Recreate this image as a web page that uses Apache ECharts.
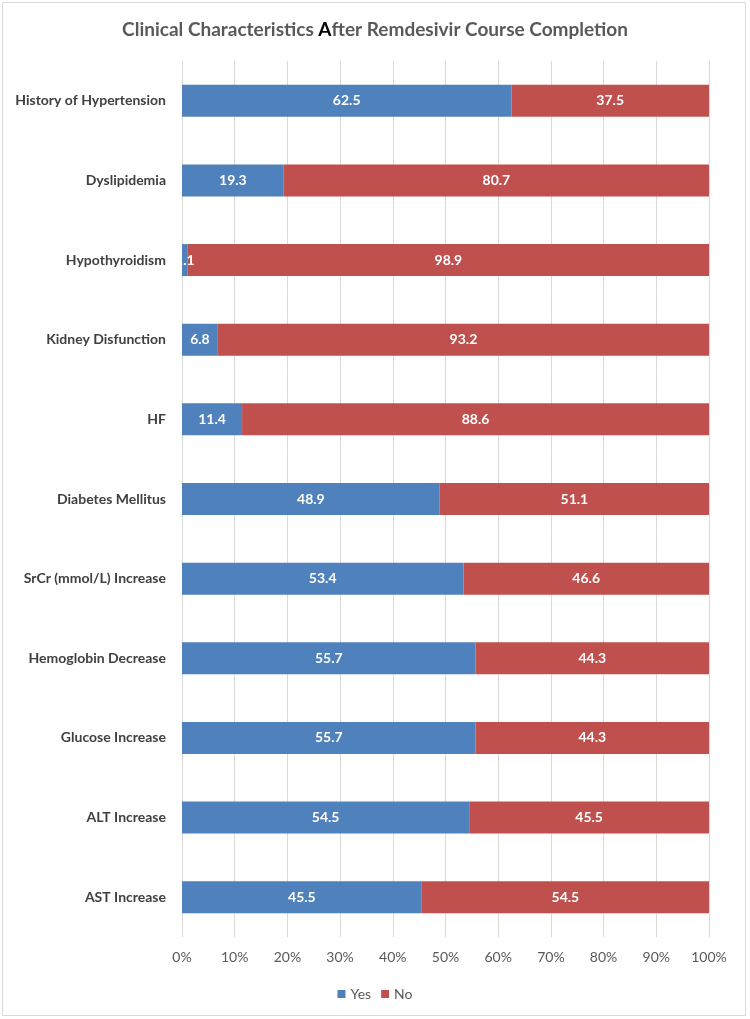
<!DOCTYPE html>
<html>
<head>
<meta charset="utf-8">
<script src="https://cdn.jsdelivr.net/npm/echarts@6/dist/echarts.min.js"></script>
<style>
html,body{margin:0;padding:0;background:#fff;}
#chart{width:750px;height:1019px;}
</style>
</head>
<body>
<div id="chart"></div>
<script>
const categories = ['History of Hypertension','Dyslipidemia','Hypothyroidism','Kidney Disfunction','HF','Diabetes Mellitus','SrCr (mmol/L) Increase','Hemoglobin Decrease','Glucose Increase','ALT Increase','AST Increase'];
const yesValues = [62.5,19.3,1.1,6.8,11.4,48.9,53.4,55.7,55.7,54.5,45.5];
const noValues = [37.5,80.7,98.9,93.2,88.6,51.1,46.6,44.3,44.3,45.5,54.5];
const xTicks = ['0%','10%','20%','30%','40%','50%','60%','70%','80%','90%','100%'];

const FONT = 'Lato, "Open Sans", sans-serif';
const chart = echarts.init(document.getElementById('chart'));
const labelStyle = {show:true, position:'inside', color:'#fff', fontWeight:'bold', fontSize:14, fontFamily:FONT, formatter:p=>p.value.toFixed(1)};
chart.setOption({
  animation:false,
  backgroundColor:'#fff',
  title:{
    text:'{g|Clinical Characteristics }{a|A}{g|fter Remdesivir Course Completion}',
    left:'center', top:15,
    textStyle:{rich:{
      g:{fontSize:19,fontWeight:'bold',color:'#595959',fontFamily:FONT},
      a:{fontSize:19,fontWeight:'bold',color:'#000',fontFamily:FONT}
    }}
  },
  graphic:[{type:'rect',shape:{x:2.5,y:2.5,width:743,height:1013},style:{fill:'none',stroke:'#d9d9d9',lineWidth:1},silent:true}],
  legend:{
    data:['Yes','No'], left:'center', top:982, itemWidth:8, itemHeight:8, itemGap:10,
    icon:'rect', textStyle:{color:'#595959',fontSize:14,fontFamily:FONT}
  },
  grid:{left:182,right:41,top:61,bottom:82},
  xAxis:{
    type:'value', min:0, max:100, interval:10,
    axisLine:{show:false}, axisTick:{show:false},
    splitLine:{show:true,lineStyle:{color:'#d9d9d9',width:1}},
    axisLabel:{color:'#595959',fontSize:14,fontFamily:FONT,margin:13,formatter:v=>xTicks[Math.round(v/10)]}
  },
  yAxis:{
    type:'category', data:categories, inverse:true,
    axisLine:{show:false}, axisTick:{show:false},
    axisLabel:{color:'#404040',fontSize:14,fontWeight:'bold',fontFamily:FONT,margin:16}
  },
  series:[
    {name:'Yes',type:'bar',stack:'t',data:yesValues,barWidth:32,itemStyle:{color:'#4f81bd'},label:labelStyle},
    {name:'No',type:'bar',stack:'t',data:noValues,barWidth:32,itemStyle:{color:'#c0504d'},label:labelStyle}
  ]
});
</script>
</body>
</html>
